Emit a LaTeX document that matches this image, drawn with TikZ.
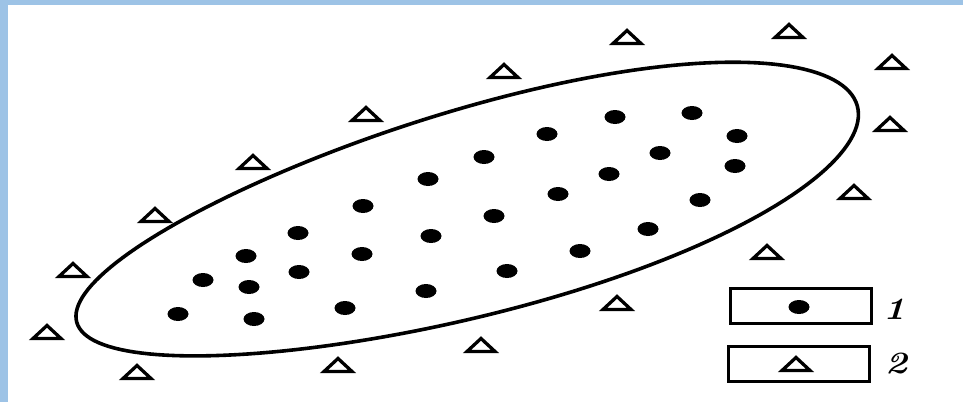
\documentclass[tikz,border=0pt]{standalone}
\usetikzlibrary{shapes.geometric}
\definecolor{framebl}{RGB}{157,195,230}
\tikzset{
  dot/.style={ellipse, fill=black, draw=none, minimum width=21pt, minimum height=14pt, inner sep=0pt},
  tri/.style={isosceles triangle, shape border rotate=90, isosceles triangle stretches,
              minimum width=28pt, minimum height=13pt, inner sep=0pt, draw=black, line width=3.3pt, fill=white},
  legbox/.style={draw=black, line width=2.4pt, minimum width=141pt, minimum height=35pt, inner sep=0pt},
  legnum/.style={font=\fontsize{31}{31}\selectfont\bfseries\itshape, xscale=1.2, inner sep=0pt},
  contour/.style={line width=3.6pt, draw=black}
}
\begin{document}
\begin{tikzpicture}[x=1pt,y=-1pt]
\useasboundingbox (0,0) rectangle (963,402);
\fill[white] (0,0) rectangle (963,402);
\fill[framebl] (0,0) rectangle (8,402);
\fill[framebl] (0,0) rectangle (963,5);
% contour (egg-shaped oval, fuller at the upper-right end)
\begin{scope}[shift={(467,214)}, y=1pt, rotate=15.5]
  \draw[contour] plot[domain=0:360, samples=181, variable=\t]
    ({405*cos(\t)}, {103*sin(\t)*(1+0.1*cos(\t))}) -- cycle;
\end{scope}
% dots
\foreach \x/\y [count=\i] in {615/117, 692/113, 547/134, 737/136, 484/157, 660/153, 428/179, 609/174, 735/166,
  558/194, 363/206, 494/216, 700/200, 298/233, 431/236, 648/229, 246/256, 362/254, 580/251, 203/280,
  299/272, 249/287, 507/271, 426/291, 178/314, 345/308, 254/319}
  \node[dot] (d\i) at (\x,\y) {};
% triangles
\foreach \x/\y [count=\i] in {366/115, 253/163, 504/72, 627/38, 789/32, 892/63, 890/125, 854/193,
  767/253, 617/304, 481/346, 338/366, 155/216, 73/271, 47/333, 137/373}
  \node[tri] (t\i) at (\x,\y) {};
% legend
\node[legbox] (box1) at (801,306) {};
\node[legbox] (box2) at (799,364) {};
\node[dot] (ldot) at (799,307) {};
\node[tri] (ltri) at (796,365) {};
\node[legnum] (n1) at (894,309) {1};
\node[legnum] (n2) at (896,364) {2};
\end{tikzpicture}
\end{document}
